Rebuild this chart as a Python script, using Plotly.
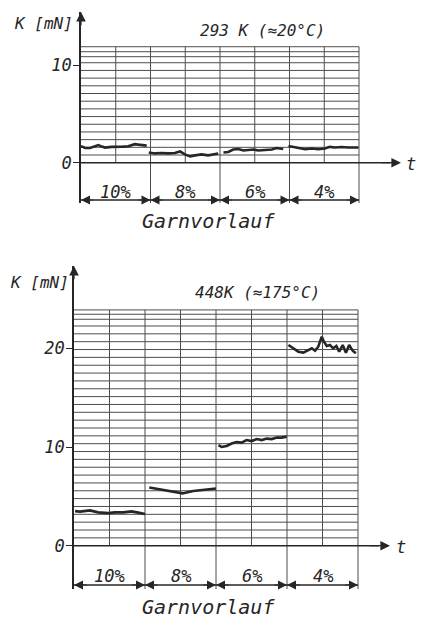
import plotly.graph_objects as go

W, H = 422, 619

SECTIONS = ["10%", "8%", "6%", "4%"]

# Yarn tension K [mN] at 293 K, one recorder trace per yarn-feed section (x in chart divisions)
cold_10_x = [0.0, 0.12, 0.26, 0.4, 0.5, 0.6, 0.69, 0.88, 1.07, 1.2, 1.36, 1.45, 1.55, 1.65, 1.75, 1.89]
cold_10_k = [1.7, 1.5, 1.5, 1.65, 1.8, 1.65, 1.55, 1.62, 1.6, 1.65, 1.68, 1.78, 1.9, 1.85, 1.8, 1.75]
cold_8_x = [1.95, 2.13, 2.32, 2.51, 2.7, 2.85, 2.99, 3.14, 3.28, 3.47, 3.66, 3.81, 3.95]
cold_8_k = [1.05, 0.95, 1.0, 0.95, 1.0, 1.15, 0.85, 0.65, 0.75, 0.85, 0.75, 0.85, 0.95]
cold_6_x = [4.1, 4.24, 4.38, 4.53, 4.67, 4.81, 4.96, 5.1, 5.29, 5.49, 5.63, 5.82]
cold_6_k = [1.05, 1.1, 1.35, 1.4, 1.25, 1.3, 1.35, 1.25, 1.3, 1.35, 1.5, 1.4]
cold_4_x = [5.97, 6.11, 6.26, 6.45, 6.64, 6.83, 7.02, 7.16, 7.31, 7.5, 7.69, 7.98]
cold_4_k = [1.7, 1.6, 1.45, 1.38, 1.45, 1.38, 1.45, 1.62, 1.55, 1.6, 1.55, 1.55]

# Yarn tension K [mN] at 448 K
hot_10_x = [0.03, 0.17, 0.45, 0.68, 0.97, 1.15, 1.39, 1.62, 1.81, 2.0]
hot_10_k = [3.5, 3.45, 3.58, 3.38, 3.3, 3.38, 3.38, 3.48, 3.35, 3.22]
hot_8_x = [2.12, 2.33, 2.52, 2.7, 2.89, 3.06, 3.17, 3.36, 3.55, 3.74, 4.0]
hot_8_k = [5.9, 5.78, 5.65, 5.55, 5.45, 5.3, 5.4, 5.55, 5.62, 5.68, 5.8]
hot_6_x = [4.07, 4.16, 4.3, 4.44, 4.58, 4.72, 4.86, 5.0, 5.15, 5.29, 5.43, 5.57, 5.71, 5.85, 5.99]
hot_6_k = [10.2, 10.0, 10.1, 10.35, 10.5, 10.45, 10.7, 10.6, 10.8, 10.7, 10.85, 10.8, 10.95, 10.95, 11.05]
hot_4_x = [6.04, 6.18, 6.32, 6.46, 6.6, 6.7, 6.79, 6.88, 6.98, 7.04, 7.12, 7.21, 7.3, 7.39,
           7.47, 7.57, 7.66, 7.75, 7.85, 7.94]
hot_4_k = [20.33, 20.0, 19.66, 19.56, 19.83, 20.0, 19.76, 20.16, 21.17, 20.67, 20.23, 20.33, 20.0,
           20.23, 19.66, 20.33, 19.56, 20.33, 19.76, 19.49]

cold_ticks = [0, 10]
hot_ticks = [0, 10, 20]

INK = "#262626"
GRID = "#4d4d4d"
FONT = "DejaVu Sans Mono"

# panel geometry in pixels: left edge of the grid, width of one division,
# pixel row of K = 0, pixels per mN, top and bottom of the panel, arrow tip on the t axis
panels = [
    dict(x0=81, col=34.75, zero=162.7, unit=9.77, top=12, bottom=203, tip=401,
         grid_step=0.787, grid_n=13, grid_top=[10.85, 11.36, 11.87], dim=-3.82, lab=-2.95,
         traces=[(cold_10_x, cold_10_k), (cold_8_x, cold_8_k), (cold_6_x, cold_6_k), (cold_4_x, cold_4_k)],
         ticks=cold_ticks, title="293 K (≈20°C)", title_px=(262, 30),
         klab_px=(75, 24), t_px=(404, 164), garn_px=(208, 221)),
    dict(x0=74, col=35.5, zero=545.7, unit=9.87, top=266, bottom=589, tip=390,
         grid_step=0.795, grid_n=28, grid_top=[22.94, 23.45, 23.89], dim=-3.98, lab=-3.1,
         traces=[(hot_10_x, hot_10_k), (hot_8_x, hot_8_k), (hot_6_x, hot_6_k), (hot_4_x, hot_4_k)],
         ticks=hot_ticks, title="448K (≈175°C)", title_px=(257, 292),
         klab_px=(71, 282), t_px=(394, 547), garn_px=(208, 607)),
]

fig = go.Figure()
annotations = []
layout_axes = {}


def txt(text, x, y, size, xanchor="center", yanchor="middle", xref="paper", yref="paper"):
    if xref == "paper":
        x, y = x / W, 1 - y / H
    return dict(text=text, x=x, y=y, xref=xref, yref=yref, xanchor=xanchor, yanchor=yanchor,
                showarrow=False, font=dict(family=FONT, size=size, color=INK, style="italic"))


def arrow(xa, ya, x, y, ax, ay, size=1.6):
    return dict(x=x, y=y, ax=ax, ay=ay, xref=xa, yref=ya, axref=xa, ayref=ya, text="",
                showarrow=True, arrowhead=2, arrowsize=size, arrowwidth=1.2,
                arrowcolor=INK, standoff=0, startstandoff=0)


for i, p in enumerate(panels):
    sfx = "" if i == 0 else str(i + 1)
    xa, ya = "x" + sfx, "y" + sfx
    xmax = (p["tip"] - p["x0"]) / p["col"]
    ymin = (p["zero"] - p["bottom"]) / p["unit"]
    ymax = (p["zero"] - p["top"]) / p["unit"]
    levels = [k * p["grid_step"] for k in range(1, p["grid_n"] + 1)] + p["grid_top"]
    gtop = p["grid_top"][-1]

    # recorder paper: horizontal rulings and time divisions
    gx, gy = [], []
    for lv in levels:
        gx += [0, 8, None]
        gy += [lv, lv, None]
    for c in range(1, 9):
        low = ymin if c % 2 == 0 else 0
        gx += [c, c, None]
        gy += [low, gtop, None]
    fig.add_trace(go.Scatter(x=gx, y=gy, mode="lines", line=dict(color=GRID, width=1),
                             hoverinfo="skip", showlegend=False, xaxis=xa, yaxis=ya))

    # time axis and dimension line of the yarn-feed sections
    fig.add_trace(go.Scatter(x=[0, xmax - 0.3, None, 0, 8], y=[0, 0, None, p["dim"], p["dim"]],
                             mode="lines", line=dict(color=INK, width=1.4),
                             hoverinfo="skip", showlegend=False, xaxis=xa, yaxis=ya))

    # tension traces
    for (tx, tk) in p["traces"]:
        fig.add_trace(go.Scatter(x=tx, y=tk, mode="lines", line=dict(color=INK, width=2.6),
                                 showlegend=False, xaxis=xa, yaxis=ya))

    layout_axes["xaxis" + sfx] = dict(domain=[p["x0"] / W, p["tip"] / W], range=[0, xmax],
                                      visible=False, anchor=ya)
    layout_axes["yaxis" + sfx] = dict(domain=[1 - p["bottom"] / H, 1 - p["top"] / H],
                                      range=[ymin, ymax], anchor=xa, showgrid=False, zeroline=False,
                                      showline=True, linecolor=INK, linewidth=1.5,
                                      tickmode="array", tickvals=p["ticks"],
                                      ticktext=[str(t) for t in p["ticks"]],
                                      ticks="outside", ticklen=6, tickwidth=1.2, tickcolor=INK,
                                      ticklabelstandoff=-2,
                                      tickfont=dict(family=FONT, size=17, color=INK, style="italic"))

    # axis arrowheads
    annotations.append(arrow(xa, ya, 0, ymax, 0, ymax - 1.5))
    annotations.append(arrow(xa, ya, xmax, 0, xmax - 0.6, 0))
    # dimension arrows at each section border
    for b in [0, 2, 4, 6, 8]:
        if b < 8:
            annotations.append(arrow(xa, ya, b, p["dim"], b + 0.4, p["dim"], size=1.5))
        if b > 0:
            annotations.append(arrow(xa, ya, b, p["dim"], b - 0.4, p["dim"], size=1.5))
    # section labels
    for s, lab in enumerate(SECTIONS):
        annotations.append(txt(lab, 2 * s + 1, p["lab"], 17, xref=xa, yref=ya))

    annotations.append(txt("K [mN]", p["klab_px"][0], p["klab_px"][1], 16, xanchor="right"))
    annotations.append(txt(p["title"], p["title_px"][0], p["title_px"][1], 16))
    annotations.append(txt("t", p["t_px"][0], p["t_px"][1], 17, xanchor="left"))
    annotations.append(txt("Garnvorlauf", p["garn_px"][0], p["garn_px"][1], 20))

fig.update_layout(width=W, height=H, margin=dict(l=0, r=0, t=0, b=0),
                  paper_bgcolor="white", plot_bgcolor="white",
                  showlegend=False, annotations=annotations, **layout_axes)

fig.write_html("out.html")
